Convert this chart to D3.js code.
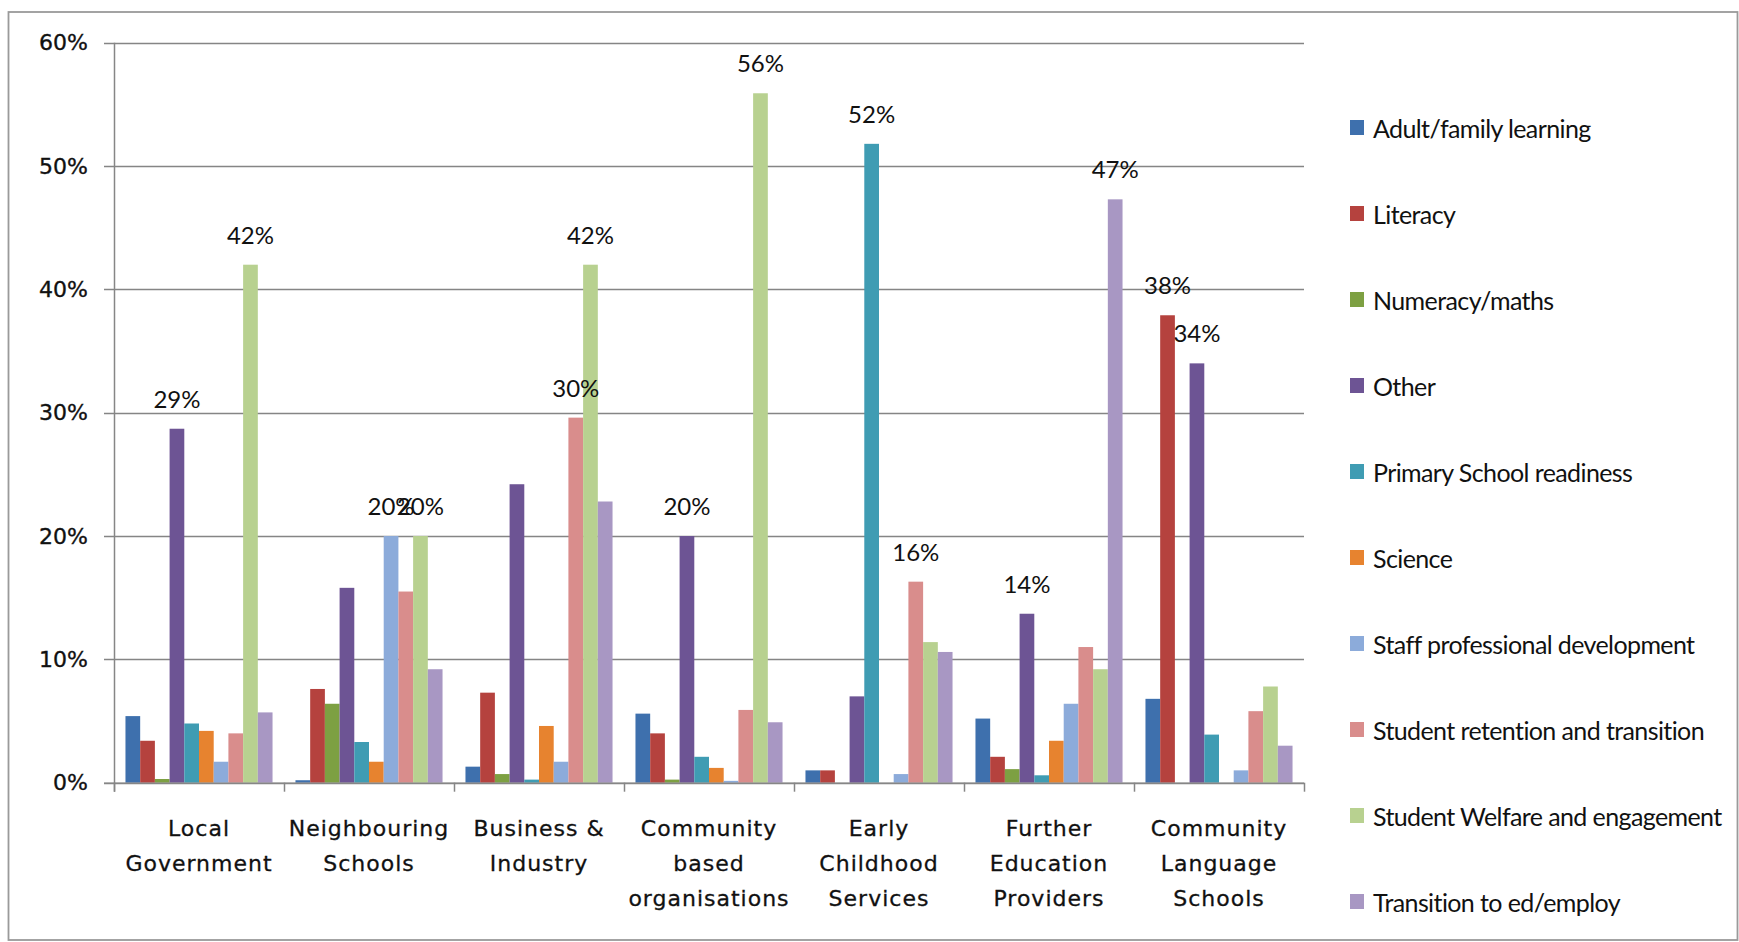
<!DOCTYPE html>
<html>
<head>
<meta charset="utf-8">
<script src="https://cdnjs.cloudflare.com/ajax/libs/d3/7.8.5/d3.min.js"></script>
<style>
  html, body { margin: 0; padding: 0; background: #ffffff; }
  svg { display: block; }
  .axis-text { font-family: "DejaVu Sans", Verdana, sans-serif; font-size: 22px; fill: #111; stroke: #111; stroke-width: 0.35px; }
  .cat-text { font-family: "DejaVu Sans", Verdana, sans-serif; font-size: 22px; fill: #111; stroke: #111; stroke-width: 0.3px; letter-spacing: 1px; }
  .val-text { font-family: Lato, "Open Sans", sans-serif; font-size: 24px; fill: #111; }
  .leg-text { font-family: Lato, "Open Sans", sans-serif; font-size: 25px; fill: #111; letter-spacing: -0.6px; }
</style>
</head>
<body>
<svg id="chart" width="1739" height="942"></svg>
<script>
// Partner types (x groups), each label broken into lines
const categories = [
  "Local Government", "Neighbouring Schools", "Business & Industry",
  "Community based organisations", "Early Childhood Services",
  "Further Education Providers", "Community Language Schools"
];
const categoryLines = [
  ["Local", "Government"],
  ["Neighbouring", "Schools"],
  ["Business &", "Industry"],
  ["Community", "based", "organisations"],
  ["Early", "Childhood", "Services"],
  ["Further", "Education", "Providers"],
  ["Community", "Language", "Schools"]
];

// Focus areas (series)
const seriesNames = [
  "Adult/family learning", "Literacy", "Numeracy/maths", "Other",
  "Primary School readiness", "Science", "Staff professional development",
  "Student retention and transition", "Student Welfare and engagement",
  "Transition to ed/employ"
];
const seriesColors = [
  "#3e70ad", "#b5423e", "#7da042", "#6d5494", "#3f9cb3",
  "#e7832f", "#8cabda", "#d98d8c", "#b8d190", "#a897c3"
];

// Percentages per series, one value per category (same order as categories)
const adultFamily      = [5.4, 0.2, 1.3, 5.6, 1.0, 5.2, 6.8];
const literacy         = [3.4, 7.6, 7.3, 4.0, 1.0, 2.1, 37.9];
const numeracy         = [0.3, 6.4, 0.7, 0.25, 0, 1.1, 0];
const other            = [28.7, 15.8, 24.2, 20.0, 7.0, 13.7, 34.0];
const primaryReadiness = [4.8, 3.3, 0.25, 2.1, 51.8, 0.6, 3.9];
const science          = [4.2, 1.7, 4.6, 1.2, 0, 3.4, 0];
const staffDevelopment = [1.7, 20.0, 1.7, 0.15, 0.7, 6.4, 1.0];
const retention        = [4.0, 15.5, 29.6, 5.9, 16.3, 11.0, 5.8];
const welfare          = [42.0, 20.0, 42.0, 55.9, 11.4, 9.2, 7.8];
const transitionEd     = [5.7, 9.2, 22.8, 4.9, 10.6, 47.3, 3.0];

const seriesValues = [
  adultFamily, literacy, numeracy, other, primaryReadiness,
  science, staffDevelopment, retention, welfare, transitionEd
];

// Bars that carry a value label: [category index, series index]
const labelledBars = [
  [0, 3], [0, 8], [1, 6], [1, 8], [2, 7], [2, 8], [3, 3], [3, 8],
  [4, 4], [4, 7], [5, 3], [5, 9], [6, 1], [6, 3]
];

const yTicks = [0, 10, 20, 30, 40, 50, 60];

const svg = d3.select("#chart");

// outer chart frame
svg.append("rect")
  .attr("x", 8.5).attr("y", 12).attr("width", 1729).attr("height", 928)
  .attr("fill", "#ffffff").attr("stroke", "#9a9a9a").attr("stroke-width", 1.8);

const plot = { left: 114, right: 1304, top: 42.7, bottom: 782.7 };

const x = d3.scaleBand()
  .domain(d3.range(categories.length))
  .range([plot.left, plot.right])
  .paddingInner(0).paddingOuter(0);

const xInner = d3.scaleBand()
  .domain(d3.range(seriesNames.length))
  .range([0, x.bandwidth()])
  .paddingInner(0).paddingOuter(0.78);

const y = d3.scaleLinear().domain([0, 60]).range([plot.bottom, plot.top]);

// horizontal gridlines
svg.append("g")
  .selectAll("line")
  .data(yTicks)
  .join("line")
  .attr("x1", plot.left - 10).attr("x2", plot.right)
  .attr("y1", d => Math.round(y(d)) + 0.5).attr("y2", d => Math.round(y(d)) + 0.5)
  .attr("stroke", "#858585").attr("stroke-width", 1.4);

// y axis labels
svg.append("g")
  .selectAll("text")
  .data(yTicks)
  .join("text")
  .attr("class", "axis-text")
  .attr("x", 88).attr("y", d => y(d))
  .attr("text-anchor", "end").attr("dominant-baseline", "central")
  .text(d => d + "%");

// bars
const groups = svg.append("g")
  .selectAll("g")
  .data(categories)
  .join("g")
  .attr("transform", (d, i) => `translate(${x(i)},0)`);

groups.selectAll("rect")
  .data((d, ci) => seriesValues.map((vals, si) => ({ si, v: vals[ci] })))
  .join("rect")
  .attr("x", d => xInner(d.si))
  .attr("width", xInner.bandwidth())
  .attr("y", d => y(d.v))
  .attr("height", d => y(0) - y(d.v))
  .attr("fill", d => seriesColors[d.si]);

// value labels
svg.append("g")
  .selectAll("text")
  .data(labelledBars)
  .join("text")
  .attr("class", "val-text")
  .attr("x", d => x(d[0]) + xInner(d[1]) + xInner.bandwidth() / 2)
  .attr("y", d => y(seriesValues[d[1]][d[0]]) - 21)
  .attr("text-anchor", "middle")
  .text(d => Math.round(seriesValues[d[1]][d[0]]) + "%");

// y axis line and category axis
svg.append("line")
  .attr("x1", plot.left + 0.5).attr("x2", plot.left + 0.5)
  .attr("y1", plot.top).attr("y2", plot.bottom + 9)
  .attr("stroke", "#868686").attr("stroke-width", 1.5);

svg.append("line")
  .attr("x1", plot.left - 10).attr("x2", plot.right)
  .attr("y1", plot.bottom + 0.5).attr("y2", plot.bottom + 0.5)
  .attr("stroke", "#868686").attr("stroke-width", 1.5);

svg.append("g")
  .selectAll("line")
  .data(d3.range(categories.length + 1))
  .join("line")
  .attr("x1", i => plot.left + i * x.step() + 0.5)
  .attr("x2", i => plot.left + i * x.step() + 0.5)
  .attr("y1", plot.bottom).attr("y2", plot.bottom + 9)
  .attr("stroke", "#868686").attr("stroke-width", 1.5);

// category labels
const catLabels = svg.append("g")
  .selectAll("text")
  .data(categoryLines)
  .join("text")
  .attr("class", "cat-text")
  .attr("text-anchor", "middle")
  .attr("x", (d, i) => x(i) + x.bandwidth() / 2)
  .attr("y", 836);

catLabels.selectAll("tspan")
  .data(d => d)
  .join("tspan")
  .attr("x", function () { return d3.select(this.parentNode).attr("x"); })
  .attr("dy", (d, i) => i === 0 ? 0 : 35)
  .text(d => d);

// legend
const legend = svg.append("g")
  .selectAll("g")
  .data(seriesNames)
  .join("g")
  .attr("transform", (d, i) => `translate(1350, ${127.5 + i * 86.0})`);

legend.append("rect")
  .attr("x", 0).attr("y", -7.5)
  .attr("width", 14).attr("height", 15)
  .attr("fill", (d, i) => seriesColors[i]);

legend.append("text")
  .attr("class", "leg-text")
  .attr("x", 23).attr("y", 0)
  .attr("dominant-baseline", "central")
  .text(d => d);
</script>
</body>
</html>
